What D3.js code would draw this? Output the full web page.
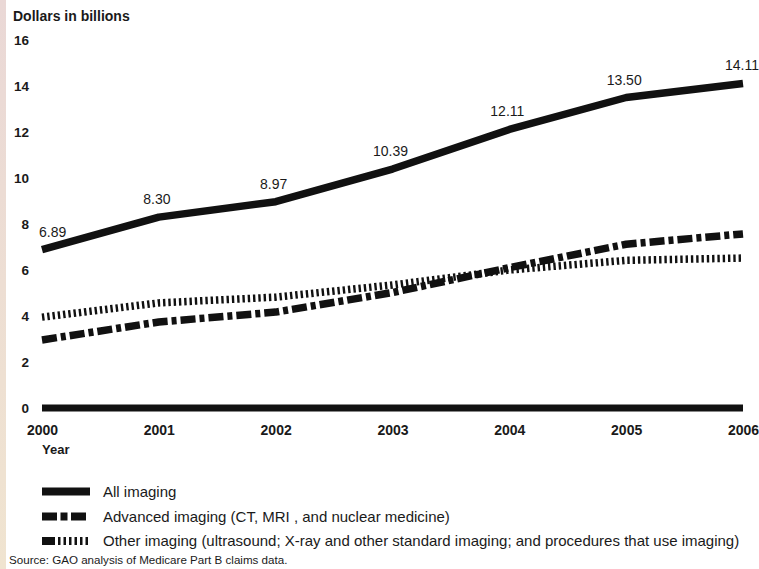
<!DOCTYPE html>
<html>
<head>
<meta charset="utf-8">
<script src="https://cdn.jsdelivr.net/npm/d3@7"></script>
<style>
  html, body { margin: 0; padding: 0; background: #fff; }
  svg { display: block; }
  text { font-family: "Liberation Sans", Arial, Helvetica, sans-serif; fill: #1a1a1a; }
</style>
</head>
<body>
<script>
// ---- Data ----
const years = [2000, 2001, 2002, 2003, 2004, 2005, 2006];
const allImaging = [6.89, 8.30, 8.97, 10.39, 12.11, 13.50, 14.11];
const advancedImaging = [2.96, 3.74, 4.17, 5.02, 6.10, 7.12, 7.57];
const otherImaging = [3.95, 4.57, 4.82, 5.35, 6.00, 6.42, 6.52];
const yTicks = [0, 2, 4, 6, 8, 10, 12, 14, 16];
const seriesNames = [
  "All imaging",
  "Advanced imaging (CT, MRI , and nuclear medicine)",
  "Other imaging (ultrasound; X-ray and other standard imaging; and procedures that use imaging)"
];
const yTitle = "Dollars in billions";
const xTitle = "Year";
const sourceNote = "Source: GAO analysis of Medicare Part B claims data.";

// ---- Layout ----
const W = 759, H = 569;
const svg = d3.select("body").append("svg").attr("width", W).attr("height", H);

// left decorative strip
const defs = svg.append("defs");
const grad = defs.append("linearGradient").attr("id", "strip").attr("x1", 0).attr("y1", 0).attr("x2", 0).attr("y2", 1);
grad.append("stop").attr("offset", "0%").attr("stop-color", "#ead8d6");
grad.append("stop").attr("offset", "100%").attr("stop-color", "#f0e4d0");
svg.append("rect").attr("x", 0).attr("y", 0).attr("width", 6).attr("height", H).attr("fill", "url(#strip)");

const x = d3.scalePoint().domain(years).range([42, 743]);
const y = d3.scaleLinear().domain([0, 16]).range([408, 40]);

const styles = [
  { dash: null, width: 7.5, legendDash: null },
  { dash: "15,4,5,4", width: 7.5, legendDash: "15,3.5,7,3.5,15,100" },
  { dash: "2.4,2.9", width: 7.5, legendDash: "13,3,2.5,3,2.5,3,2.5,3,2.5,3,2.5,3,2.5,100" }
];
const seriesData = [allImaging, advancedImaging, otherImaging];

// y axis title
svg.append("text").attr("x", 13).attr("y", 21)
  .attr("font-size", 14).attr("font-weight", "bold").text(yTitle);

// y axis tick labels (axis without domain/ticks lines)
const yAxis = d3.axisLeft(y).tickValues(yTicks).tickSize(0).tickPadding(0).tickFormat(d3.format("d"));
const gy = svg.append("g").attr("transform", "translate(29,0)").call(yAxis);
gy.select(".domain").remove();
gy.selectAll("text").attr("font-size", 13.5).attr("font-weight", "bold")
  .attr("font-family", "'Liberation Sans', Arial, sans-serif").attr("fill", "#1a1a1a");

// zero baseline bar
svg.append("line")
  .attr("x1", x(years[0])).attr("x2", x(years[years.length - 1]))
  .attr("y1", y(0)).attr("y2", y(0))
  .attr("stroke", "#111").attr("stroke-width", 7);

// x axis labels
const xAxis = d3.axisBottom(x).tickSize(0).tickPadding(0).tickFormat(d3.format("d"));
const gx = svg.append("g").attr("transform", "translate(0,425)").call(xAxis);
gx.select(".domain").remove();
gx.selectAll("text").attr("font-size", 14).attr("font-weight", "bold")
  .attr("font-family", "'Liberation Sans', Arial, sans-serif").attr("fill", "#1a1a1a");

svg.append("text").attr("x", 42).attr("y", 454)
  .attr("font-size", 13).attr("font-weight", "bold").text(xTitle);

// lines
const line = d3.line().x((d, i) => x(years[i])).y(d => y(d)).curve(d3.curveLinear);
seriesData.forEach((vals, k) => {
  svg.append("path").datum(vals)
    .attr("d", line)
    .attr("fill", "none")
    .attr("stroke", "#111")
    .attr("stroke-width", styles[k].width)
    .attr("stroke-linejoin", "round")
    .attr("stroke-dasharray", styles[k].dash);
});

// value labels for All imaging
svg.append("g").selectAll("text").data(allImaging).join("text")
  .attr("x", (d, i) => x(years[i]) + (i === 0 ? -3 : (i === years.length - 1 ? 16 : -2)))
  .attr("y", d => y(d) - 13)
  .attr("text-anchor", (d, i) => i === 0 ? "start" : (i === years.length - 1 ? "end" : "middle"))
  .attr("font-size", 14)
  .text(d => d.toFixed(2));

// legend
const legendY = [491.5, 516.5, 541];
const lg = svg.append("g");
seriesNames.forEach((name, k) => {
  lg.append("line")
    .attr("x1", 42).attr("x2", 90)
    .attr("y1", legendY[k]).attr("y2", legendY[k])
    .attr("stroke", "#111").attr("stroke-width", 8)
    .attr("stroke-dasharray", styles[k].legendDash);
  lg.append("text").attr("x", 103).attr("y", legendY[k] + 5)
    .attr("font-size", 15).text(name);
});

svg.append("text").attr("x", 9).attr("y", 564)
  .attr("font-size", 11.6).text(sourceNote);
</script>
</body>
</html>
